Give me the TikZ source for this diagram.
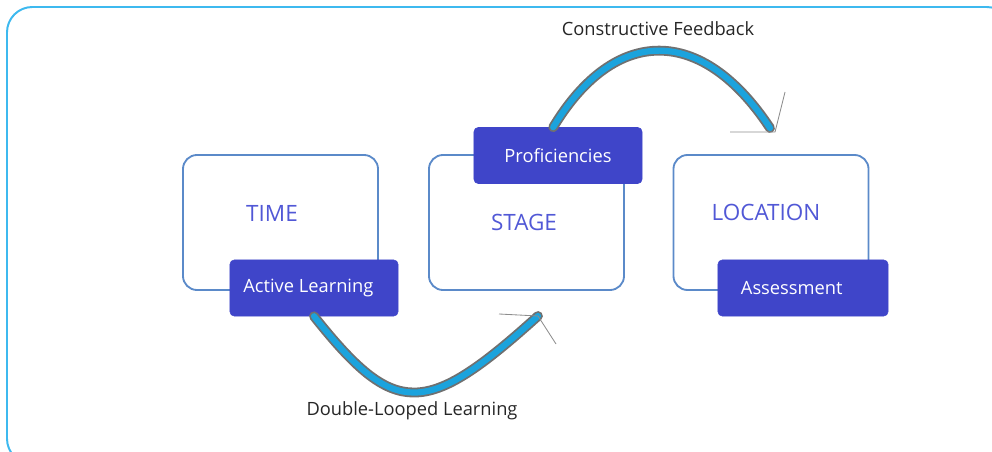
\documentclass[tikz,border=0pt]{standalone}
\usepackage{fontspec}
\setmainfont{Open Sans}
\usetikzlibrary{calc}
\definecolor{framecyan}{HTML}{3DB9EF}
\definecolor{boxblue}{HTML}{5B8AC9}
\definecolor{tagblue}{HTML}{3F45C9}
\definecolor{titleblue}{HTML}{5158D6}
\definecolor{loopcyan}{HTML}{1BA3DD}
\definecolor{loopgrey}{HTML}{707070}
\definecolor{captiondark}{HTML}{262626}

\begin{document}
\begin{tikzpicture}[
    x=0.025cm, y=-0.025cm,
    % ── Node styles ──────────────────────────────────────────────────────
    framebox/.style={
        draw=boxblue, rounded corners=10pt, line width=1.3pt,
        minimum width=4.875cm, minimum height=3.375cm, inner sep=0pt
    },
    titletext/.style={
        font=\fontsize{16}{19}\selectfont, text=titleblue
    },
    tagbox/.style={
        fill=tagblue, draw=tagblue, rounded corners=3pt,
        minimum width=4.2cm, minimum height=1.4cm, inner sep=0pt,
        font=\fontsize{13}{15}\selectfont, text=white
    },
    caption/.style={
        font=\fontsize{13}{15}\selectfont, text=captiondark
    },
    % ── Connector styles ─────────────────────────────────────────────────
    loop/.style={
        draw=loopgrey, line width=1.3pt, double=loopcyan,
        double distance=4.4pt, line cap=round
    },
    headline/.style={
        draw=loopgrey!80, line width=0.6pt
    }
]
\useasboundingbox (0,0) rectangle (992,452);
\clip (0,0) rectangle (992,452);

% ═══════════════════════════════════════════════════════════════════════
% Outer frame
% ═══════════════════════════════════════════════════════════════════════
\draw[framecyan, line width=1.4pt, rounded corners=18pt]
    (7,7) rectangle (1012,464);

% ═══════════════════════════════════════════════════════════════════════
% Three frames
% ═══════════════════════════════════════════════════════════════════════
\node[framebox] (timebox)  at (280.5,222.5) {};
\node[framebox] (stagebox) at (526.5,222.5) {};
\node[framebox] (locbox)   at (771,222.5) {};

\node[titletext] (timetitle)  at (272,213) {TIME};
\node[titletext] (stagetitle) at (524,222) {STAGE};
\node[titletext] (loctitle)   at (766,212) {LOCATION};

% Tags
\node[tagbox] (activelearn)   at (314,288)   {\hspace*{-8pt}Active Learning};
\node[tagbox] (proficiencies) at (558,155.5) {Proficiencies};
\node[tagbox, minimum width=4.25cm] (assessment) at (803,288)
    {\hspace*{-16pt}Assessment};

% ═══════════════════════════════════════════════════════════════════════
% Loops
% ═══════════════════════════════════════════════════════════════════════
\coordinate (lowtip) at (538,316);
\coordinate (uptip)  at (770,128);

\draw[loop] (activelearn.south) .. controls (395,418) and (425,418) .. (lowtip);
\draw[headline] ($(lowtip)+(-39,-2)$) -- (lowtip) -- ($(lowtip)+(18,28)$);

\draw[loop] ([xshift=-0.12cm]proficiencies.north)
    .. controls (615,25) and (702,25) .. (uptip);
\draw[headline] ($(uptip)+(-40,4)$) -- ($(uptip)+(5,4)$) -- ($(uptip)+(15,-36)$);

% Captions
\node[caption] (feedback) at (658,29)  {Constructive Feedback};
\node[caption] (doubleloop) at (412,411) {Double-Looped Learning};

\end{tikzpicture}
\end{document}
